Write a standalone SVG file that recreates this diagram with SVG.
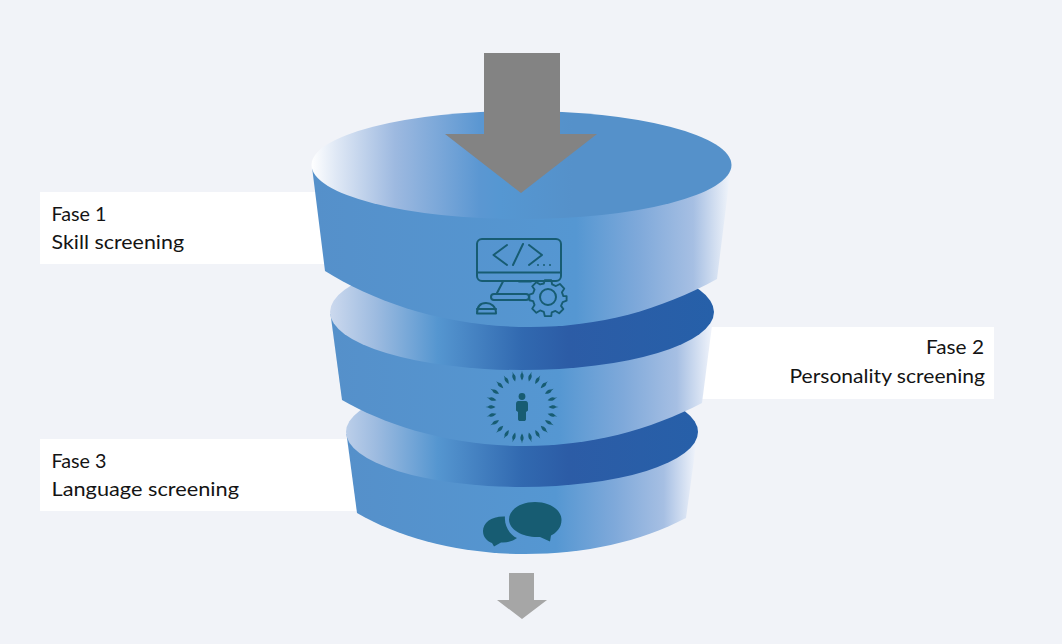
<svg xmlns="http://www.w3.org/2000/svg" width="1062" height="644" viewBox="0 0 1062 644">
<style>
.lab{font-family:"Lato","Liberation Sans",sans-serif;font-size:20px;fill:#141414}
.box{fill:#fff}
.ln{fill:none;stroke:#175c72;stroke-width:2;stroke-linecap:round;stroke-linejoin:round}
.ic{fill:#175c72}
</style>
<defs>
<linearGradient id="top" gradientUnits="userSpaceOnUse" x1="311" y1="0" x2="732" y2="0">
<stop offset="0" stop-color="#fff"/><stop offset=".06" stop-color="#dfe8f5"/><stop offset=".2" stop-color="#9db9e0"/><stop offset=".4" stop-color="#5b97d2"/><stop offset=".45" stop-color="#5597d2"/><stop offset=".62" stop-color="#5591ca"/><stop offset="1" stop-color="#5591ca"/>
</linearGradient>
<linearGradient id="inner" gradientUnits="userSpaceOnUse" x1="330" y1="0" x2="714" y2="0">
<stop offset="0" stop-color="#ccd9ee"/><stop offset=".12" stop-color="#9dbbe0"/><stop offset=".28" stop-color="#5596d0"/><stop offset=".5" stop-color="#3169b0"/><stop offset=".62" stop-color="#2c5ca6"/><stop offset="1" stop-color="#2660a9"/>
</linearGradient>
<linearGradient id="side1" gradientUnits="userSpaceOnUse" x1="312" y1="0" x2="731" y2="0">
<stop offset="0" stop-color="#5590ca"/><stop offset=".63" stop-color="#5597d2"/><stop offset=".78" stop-color="#7fa9da"/><stop offset=".91" stop-color="#a6bfe3"/><stop offset="1" stop-color="#f3f6fb"/>
</linearGradient>
<linearGradient id="side2" gradientUnits="userSpaceOnUse" x1="331" y1="0" x2="711" y2="0">
<stop offset="0" stop-color="#5590ca"/><stop offset=".6" stop-color="#5597d2"/><stop offset=".77" stop-color="#7fa9da"/><stop offset=".91" stop-color="#a6bfe3"/><stop offset="1" stop-color="#eef2fa"/>
</linearGradient>
<linearGradient id="side3" gradientUnits="userSpaceOnUse" x1="347" y1="0" x2="695" y2="0">
<stop offset="0" stop-color="#5590ca"/><stop offset=".6" stop-color="#5597d2"/><stop offset=".77" stop-color="#7fa9da"/><stop offset=".91" stop-color="#a6bfe3"/><stop offset="1" stop-color="#eef2fa"/>
</linearGradient>
<path id="ray" d="M0-36.500L0.500-34C2.200-32 2-30 0-26.500C-2-30-2.200-32-0.500-34Z" fill="#175c72"/>
</defs>
<rect width="1062" height="644" fill="#f1f3f8"/>

<g id="label-1"><rect class="box" x="40" y="192" width="300" height="72"/>
<text class="lab" x="51.500" y="221" textLength="55" lengthAdjust="spacingAndGlyphs">Fase 1</text>
<text class="lab" x="51.500" y="249" textLength="132.500" lengthAdjust="spacingAndGlyphs">Skill screening</text></g>
<g id="label-2"><rect class="box" x="690" y="327" width="304" height="72"/>
<text class="lab" x="926" y="354" textLength="58" lengthAdjust="spacingAndGlyphs">Fase 2</text>
<text class="lab" x="789.500" y="383" textLength="195.500" lengthAdjust="spacingAndGlyphs">Personality screening</text></g>
<g id="label-3"><rect class="box" x="40" y="439" width="325" height="72"/>
<text class="lab" x="51.500" y="468" textLength="55" lengthAdjust="spacingAndGlyphs">Fase 3</text>
<text class="lab" x="51.500" y="496" textLength="187.500" lengthAdjust="spacingAndGlyphs">Language screening</text></g>

<g id="tier-3">
<path d="M346.500 434H697.500L686 518C640 542 585 554 525 554C460 554 400 538 357 513Z" fill="url(#side3)"/>
<ellipse cx="522" cy="432" rx="176" ry="55" fill="url(#inner)"/>
<g id="icon-chat">
<path class="ic" d="M505 516.500C491 516 483 523 483 531C483 537 487 541 492 543L494 546.500L501 542.500C507 543 513 541 517 538C510 535 504 526 505 516.500Z"/>
<path class="ic" d="M535 502C550 502 561.500 510 561.500 520C561.500 528 556 533 551 535.500L550 541.500L540 537C524 538 509 530 509 519.500C509 510 520 502 535 502Z"/>
</g>
</g>

<g id="tier-2">
<path d="M330.500 314H713.500L702 403C650 430 590 446 525 446C450 446 385 425 342 400Z" fill="url(#side2)"/>
<ellipse cx="522" cy="312" rx="192" ry="58" fill="url(#inner)"/>
<g id="icon-person">
<circle class="ic" cx="522" cy="396.500" r="3.400"/>
<path class="ic" d="M518.500 401H525.500C527.500 401 528 402.500 528 404.500V410.500L526 412V419C526 420.500 525 421 524 421H520C519 421 518 420.500 518 419V412L516 410.500V404.500C516 402.500 516.500 401 518.500 401Z"/>
<g transform="translate(522 407)">
<use href="#ray"/><use href="#ray" transform="rotate(15)"/><use href="#ray" transform="rotate(30)"/><use href="#ray" transform="rotate(45)"/><use href="#ray" transform="rotate(60)"/><use href="#ray" transform="rotate(75)"/><use href="#ray" transform="rotate(90)"/><use href="#ray" transform="rotate(105)"/><use href="#ray" transform="rotate(120)"/><use href="#ray" transform="rotate(135)"/><use href="#ray" transform="rotate(150)"/><use href="#ray" transform="rotate(165)"/><use href="#ray" transform="rotate(180)"/><use href="#ray" transform="rotate(195)"/><use href="#ray" transform="rotate(210)"/><use href="#ray" transform="rotate(225)"/><use href="#ray" transform="rotate(240)"/><use href="#ray" transform="rotate(255)"/><use href="#ray" transform="rotate(270)"/><use href="#ray" transform="rotate(285)"/><use href="#ray" transform="rotate(300)"/><use href="#ray" transform="rotate(315)"/><use href="#ray" transform="rotate(330)"/><use href="#ray" transform="rotate(345)"/>
</g>
</g>
</g>

<g id="tier-1">
<path d="M312 167H731L717 279C660 310 600 327 530 327C445 327 375 302 325 271Z" fill="url(#side1)"/>
<ellipse cx="521.500" cy="165" rx="210" ry="54" fill="url(#top)"/>
<g id="icon-code">
<rect class="ln" x="477" y="239" width="84" height="42" rx="5"/>
<path class="ln" d="M477 272.500H561"/>
<path class="ln" d="M507 245L493.500 255L507 265M523 244L513 265M529 245L542 255L529 265"/>
<path d="M537 265H539M543 265H545M549 265H551" fill="none" stroke="#175c72" stroke-width="1.300"/>
<path class="ln" d="M503 281.500L497 293M519 281.500H531"/>
<rect class="ln" x="491" y="294" width="38" height="6" rx="3"/>
<path class="ln" d="M477 313.500C477 305 482 303 486 303C491 303 496 306 496 313.500Z"/>
<path class="ln" d="M477 309H496"/>
<g transform="translate(548 297)">
<circle class="ln" r="8"/>
<path class="ln" d="M-3.500-18H3.500L4.500-13.500L8.500-11.800L12.800-14L17.500-9L15-5L16.500-1H20V4L15.800 5.500L14 9.500L16.500 13L12 17.500L8 15L4 16.500L3.500 20.500H-3.500L-4.500 16L-8.500 14.500L-12.500 17L-17 12.500L-14.500 8.500L-16 4.500L-20 3.500V-2.500L-16 -4L-14.500-8L-17-11.500L-12.500-16L-8.500-13.500L-4.500-14.500Z" transform="scale(.93)"/>
</g>
</g>
</g>

<g id="connectors">
<path d="M484 53H560V134H597L521 193L445 134H484Z" fill="#838383"/>
<path d="M509 573H534V600H547L522 619L497 600H509Z" fill="#a6a6a6"/>
</g>
</svg>
